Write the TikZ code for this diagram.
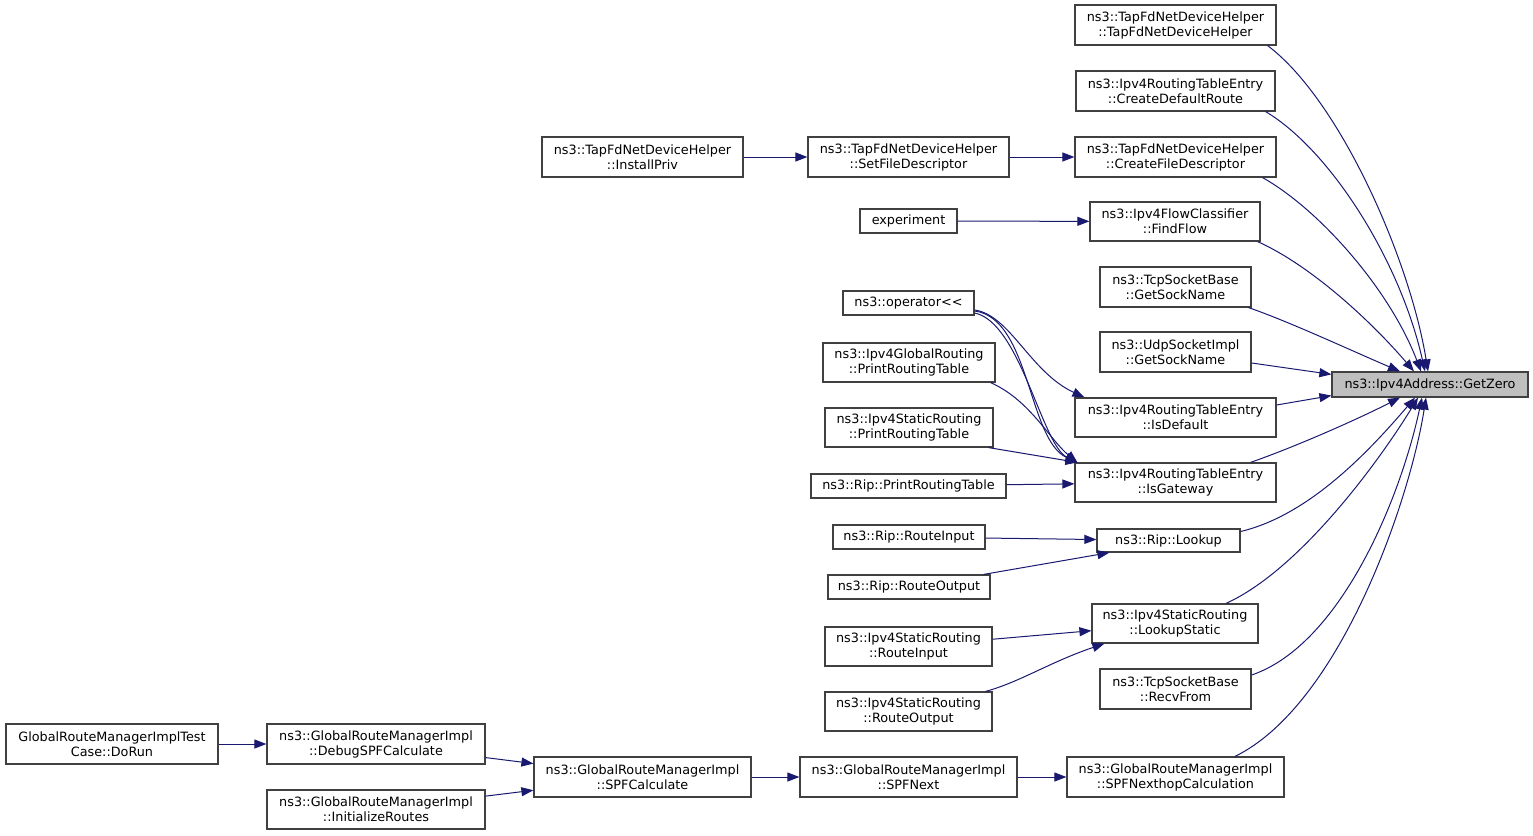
\documentclass[tikz,border=0pt]{standalone}
\usepackage{fontspec}
\setmainfont{DejaVu Sans}
\usetikzlibrary{arrows.meta}
\definecolor{edgeblue}{HTML}{191970}
\definecolor{nodeborder}{HTML}{404040}
\definecolor{targetfill}{HTML}{BFBFBF}
\tikzset{
  fn/.style={draw=nodeborder, fill=white, line width=1.2pt, inner sep=0pt, align=center,
    font=\fontsize{12.8}{15}\selectfont},
  target/.style={fn, fill=targetfill},
  call/.style={draw=edgeblue, line width=1pt, -{Triangle[length=12pt,width=9pt]}},
}
\newcommand{\fnbox}[6]{\node[#1, minimum width=#4pt, minimum height=#5pt] (#2) at (#3) {#6};}
\begin{document}
\begin{tikzpicture}[x=1pt,y=-1pt]
\useasboundingbox (0,0) rectangle (1533,835);
% target
\fnbox{target}{gz}{1430,384.5}{196}{25}{ns3::Ipv4Address::GetZero}
% right column
\fnbox{fn}{rA}{1175.5,25}{201}{40}{ns3::TapFdNetDeviceHelper\\::TapFdNetDeviceHelper}
\fnbox{fn}{rB}{1175.5,91}{199}{40}{ns3::Ipv4RoutingTableEntry\\::CreateDefaultRoute}
\fnbox{fn}{rC}{1175.5,157}{201}{40}{ns3::TapFdNetDeviceHelper\\::CreateFileDescriptor}
\fnbox{fn}{rD}{1175,221.5}{170}{39}{ns3::Ipv4FlowClassifier\\::FindFlow}
\fnbox{fn}{rE}{1175.5,287}{151}{40}{ns3::TcpSocketBase\\::GetSockName}
\fnbox{fn}{rF}{1175.5,352}{151}{40}{ns3::UdpSocketImpl\\::GetSockName}
\fnbox{fn}{rG}{1175.5,417.5}{201}{39}{ns3::Ipv4RoutingTableEntry\\::IsDefault}
\fnbox{fn}{rH}{1175.5,482.5}{201}{39}{ns3::Ipv4RoutingTableEntry\\::IsGateway}
\fnbox{fn}{rI}{1168.5,540.5}{143}{23}{ns3::Rip::Lookup}
\fnbox{fn}{rJ}{1175,623.5}{166}{39}{ns3::Ipv4StaticRouting\\::LookupStatic}
\fnbox{fn}{rK}{1175.5,689}{151}{40}{ns3::TcpSocketBase\\::RecvFrom}
\fnbox{fn}{rL}{1175.5,777}{217}{40}{ns3::GlobalRouteManagerImpl\\::SPFNexthopCalculation}
% middle column
\fnbox{fn}{setfd}{908.5,157}{201}{40}{ns3::TapFdNetDeviceHelper\\::SetFileDescriptor}
\fnbox{fn}{expt}{908.5,221}{97}{24}{experiment}
\fnbox{fn}{oper}{908.5,303}{131}{24}{ns3::operator<{}<}
\fnbox{fn}{gprt}{909,362.5}{172}{39}{ns3::Ipv4GlobalRouting\\::PrintRoutingTable}
\fnbox{fn}{sprt}{909,427.5}{168}{39}{ns3::Ipv4StaticRouting\\::PrintRoutingTable}
\fnbox{fn}{rprt}{908.5,486}{195}{24}{ns3::Rip::PrintRoutingTable}
\fnbox{fn}{rrin}{909,537}{152}{24}{ns3::Rip::RouteInput}
\fnbox{fn}{rrout}{909,587}{162}{24}{ns3::Rip::RouteOutput}
\fnbox{fn}{srin}{908.5,646.5}{167}{39}{ns3::Ipv4StaticRouting\\::RouteInput}
\fnbox{fn}{srout}{908.5,711.5}{167}{39}{ns3::Ipv4StaticRouting\\::RouteOutput}
\fnbox{fn}{spfnext}{908.5,777}{217}{40}{ns3::GlobalRouteManagerImpl\\::SPFNext}
% left
\fnbox{fn}{ipriv}{642.5,157}{201}{40}{ns3::TapFdNetDeviceHelper\\::InstallPriv}
\fnbox{fn}{spfcalc}{642.5,777}{217}{40}{ns3::GlobalRouteManagerImpl\\::SPFCalculate}
\fnbox{fn}{dbgspf}{376,744}{218}{40}{ns3::GlobalRouteManagerImpl\\::DebugSPFCalculate}
\fnbox{fn}{initr}{376,809.5}{218}{39}{ns3::GlobalRouteManagerImpl\\::InitializeRoutes}
\fnbox{fn}{dorun}{112,744}{212}{40}{GlobalRouteManagerImplTest\\Case::DoRun}
% edges into GetZero (top)
\draw[call] ([xshift=-9]rA.south east) .. controls (1340,100) and (1410,260) .. ([xshift=-2]gz.north);
\draw[call] ([xshift=-10]rB.south east) .. controls (1330,150) and (1400,260) .. ([xshift=-5]gz.north);
\draw[call] ([xshift=-14]rC.south east) .. controls (1320,210) and (1390,290) .. ([xshift=-9]gz.north);
\draw[call] ([xshift=-3]rD.south east) .. controls (1310,265) and (1370,320) .. ([xshift=-16]gz.north);
\draw[call] ([xshift=-3]rE.south east) .. controls (1290,322) and (1350,350) .. ([xshift=-30]gz.north);
\draw[call] ([yshift=-11]rF.east) -- ([yshift=-3]gz.north west);
% edges into GetZero (bottom)
\draw[call] ([yshift=12.5]rG.east) -- ([yshift=2]gz.south west);
\draw[call] ([xshift=-26]rH.north east) .. controls (1300,445) and (1360,418) .. ([xshift=-30]gz.south);
\draw[call] ([yshift=9]rI.east) .. controls (1310,515) and (1370,450) .. ([xshift=-15]gz.south);
\draw[call] ([xshift=51]rJ.north) .. controls (1300,570) and (1380,460) .. ([xshift=-12]gz.south);
\draw[call] ([yshift=14]rK.east) .. controls (1340,645) and (1400,500) .. ([xshift=-8]gz.south);
\draw[call] ([xshift=59.5]rL.north) .. controls (1340,705) and (1410,500) .. ([xshift=-4]gz.south);
% other edges
\draw[call] (ipriv) -- (setfd);
\draw[call] (setfd) -- (rC);
\draw[call] (expt) -- (rD);
\draw[call] ([yshift=-7]oper.east) .. controls (1010,315) and (1030,372) .. ([xshift=10]rG.north west);
\draw[call] ([yshift=-8]oper.east) .. controls (1030,318) and (1028,440) .. ([xshift=3]rH.north west);
\draw[call] ([yshift=-10]oper.east) .. controls (1020,322) and (1042,445) .. ([xshift=3]rH.north west);
\draw[call] ([xshift=-5]gprt.south east) .. controls (1030,400) and (1050,440) .. ([xshift=3]rH.north west);
\draw[call] ([xshift=-5]sprt.south east) -- ([xshift=3]rH.north west);
\draw[call] (rprt) -- (rH);
\draw[call] (rrin) -- (rI);
\draw[call] ([xshift=-7]rrout.north east) -- ([xshift=13]rI.south west);
\draw[call] (srin) -- (rJ);
\draw[call] ([xshift=-7]srout.north east) .. controls (1020,682) and (1050,662) .. ([xshift=13]rJ.south west);
\draw[call] (spfnext) -- (rL);
\draw[call] (spfcalc) -- (spfnext);
\draw[call] (dbgspf) -- (spfcalc);
\draw[call] (initr) -- (spfcalc);
\draw[call] (dorun) -- (dbgspf);
\end{tikzpicture}
\end{document}
